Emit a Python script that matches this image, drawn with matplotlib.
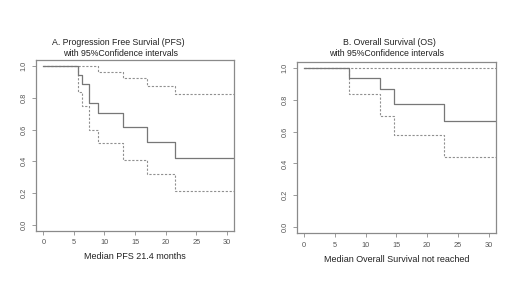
#Kaplan-Meier curves, PFS and OS with 95% confidence intervals
import matplotlib
matplotlib.use("Agg")
import matplotlib.pyplot as plt

# PFS (months) - estimate, lower and upper 95% CI
pfs_t = [0, 5.7, 6.4, 7.5, 9.0, 13.0, 17.0, 21.5, 31.2]
pfs_s = [1.0, 0.945, 0.886, 0.766, 0.707, 0.616, 0.523, 0.422, 0.422]
pfs_lo = [1.0, 0.84, 0.75, 0.60, 0.517, 0.407, 0.323, 0.215, 0.215]
pfs_hi = [1.0, 1.0, 1.0, 1.0, 0.966, 0.924, 0.876, 0.827, 0.827]

# OS (months)
os_t = [0, 7.3, 12.4, 14.6, 22.8, 31.2]
os_s = [1.0, 0.94, 0.866, 0.775, 0.669, 0.669]
os_lo = [1.0, 0.838, 0.70, 0.58, 0.438, 0.438]
os_hi = [1.0, 1.0, 1.0, 1.0, 1.0, 1.0]

x_ticks = [0, 5, 10, 15, 20, 25, 30]
y_ticks = [0.0, 0.2, 0.4, 0.6, 0.8, 1.0]

plt.rcParams['font.family'] = ['Liberation Sans', 'DejaVu Sans']
fig = plt.figure(figsize=(5.2, 2.92), dpi=100)
fig.patch.set_facecolor("white")

line_col = "#777777"
box_col = "#8a8a8a"
txt_col = "#222222"


def km_panel(ax, t, s, lo, hi):
    ax.step(t, hi, where="post", color="#909090", lw=0.8, ls=(0, (2.0, 1.5)))
    ax.step(t, lo, where="post", color="#909090", lw=0.8, ls=(0, (2.0, 1.5)))
    ax.step(t, s, where="post", color=line_col, lw=0.9)
    ax.set_xlim(-1.2, 31.2)
    ax.set_ylim(-0.04, 1.04)
    ax.set_xticks(x_ticks)
    ax.set_yticks(y_ticks)
    ax.set_xticklabels([str(v) for v in x_ticks])
    ax.set_yticklabels(["%.1f" % v for v in y_ticks], rotation=90, va="center")
    ax.tick_params(length=3, width=0.6, color=box_col, labelsize=5.3, labelcolor="#555555", pad=3)
    for sp in ax.spines.values():
        sp.set_color(box_col)
        sp.set_linewidth(0.9)


ax1 = fig.add_axes([0.0692, 0.2089, 0.381, 0.5856])
km_panel(ax1, pfs_t, pfs_s, pfs_lo, pfs_hi)
ax2 = fig.add_axes([0.5706, 0.201, 0.3833, 0.5877])
km_panel(ax2, os_t, os_s, os_lo, os_hi)

fs = 6.3
fig.text(0.228, 0.856, "A. Progression Free Survial (PFS)", ha="center", va="center", fontsize=fs, color=txt_col)
fig.text(0.231, 0.818, "with 95%Confidence intervals", ha="center", va="center", fontsize=fs, color=txt_col)
fig.text(0.748, 0.856, "B. Overall Survival (OS)", ha="center", va="center", fontsize=fs, color=txt_col)
fig.text(0.744, 0.818, "with 95%Confidence intervals", ha="center", va="center", fontsize=fs, color=txt_col)
fig.text(0.26, 0.123, "Median PFS 21.4 months", ha="center", va="center", fontsize=6.5, color=txt_col)
fig.text(0.7625, 0.113, "Median Overall Survival not reached", ha="center", va="center", fontsize=6.5, color=txt_col)

fig.savefig("out.png", dpi=100)
